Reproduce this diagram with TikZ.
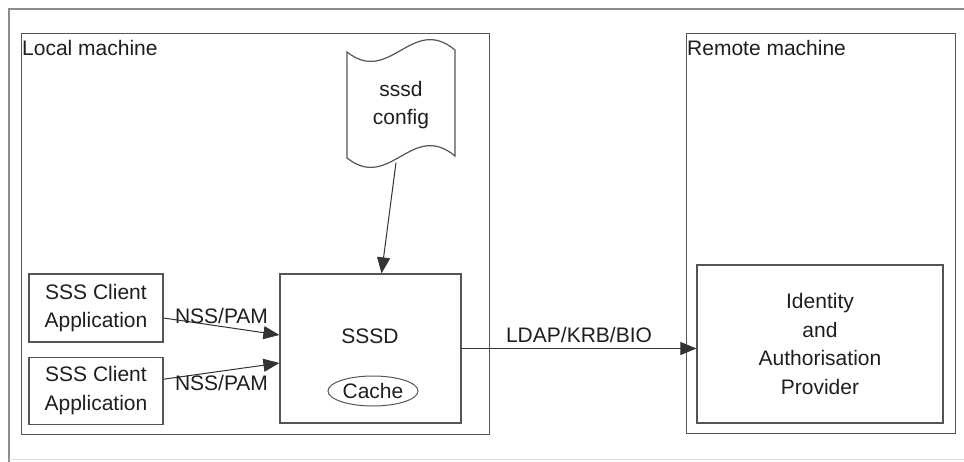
\documentclass[tikz,border=0pt]{standalone}
\usepackage{fontspec}
\setmainfont{Liberation Sans}
\usetikzlibrary{arrows.meta,positioning,shapes.geometric}
\definecolor{boxline}{RGB}{85,85,85}
\definecolor{frameline}{RGB}{140,140,140}
\definecolor{inktext}{RGB}{30,30,30}

\begin{document}
\begin{tikzpicture}[x=1pt, y=-1pt,
  box/.style={draw=boxline, line width=1.2pt, align=center, inner sep=0pt,
    text=inktext, font=\fontsize{21}{28.5}\selectfont},
  machine/.style={box, anchor=north west},
  lbl/.style={font=\fontsize{21}{26}\selectfont, inner sep=0pt, text=inktext},
  arr/.style={-{Triangle[length=16pt,width=13pt]}, line width=1pt, color=black!80},
  node distance=14pt]
\useasboundingbox (0,0) rectangle (964,461);
\draw[frameline, line width=1.6pt] (9,470) -- (9,9) -- (975,9);
\draw[black!12, line width=1pt] (9,459.5) -- (975,459.5);
% the two machines
\node[machine, minimum width=468pt, minimum height=401pt] (local) at (21,33) {};
\node[lbl, anchor=base west] (localname) at ([xshift=1pt, yshift=-22pt]local.north west) {Local machine};
\node[machine, minimum width=269pt, minimum height=400pt] (remote) at (686,33) {};
\node[lbl, anchor=base west] (remotename) at ([xshift=1pt, yshift=-22pt]remote.north west) {Remote machine};
% local side
\node[box, minimum width=134pt, minimum height=68pt] (client1) at (96,308) {SSS Client\\Application};
\node[box, minimum width=134pt, minimum height=67pt, below=14pt of client1] (client2) {SSS Client\\Application};
\node[box, minimum width=181pt, minimum height=149pt] (sssd) at (370.5,348.5) {};
\node[lbl] (sssdname) at (370,336) {SSSD};
\node[draw=boxline, ellipse, line width=1pt, minimum width=90pt, minimum height=30pt,
  inner sep=0pt, font=\fontsize{21}{26}\selectfont, text=inktext] (cache) at (373,391) {Cache};
% config file, wavy top and bottom
\draw[boxline, line width=1.2pt] (347,52) .. controls (390,86) and (412,14) .. (455,50)
  -- (455,156) .. controls (412,120) and (390,192) .. (347,158) -- cycle;
\node[box, draw=none, minimum width=108pt, minimum height=106pt] (cfg) at (401,105) {sssd\\config};
% remote side
\node[box, minimum width=246pt, minimum height=158pt] (idp) at (820,344)
  {Identity\\and\\Authorisation\\Provider};
\draw[arr] ([xshift=-5pt, yshift=-4pt]cfg.south) -- ([xshift=11pt]sssd.north);
\draw[arr] ([yshift=-10pt]client1.east) -- ([yshift=13.5pt]sssd.west)
  node[lbl, midway, yshift=11pt] {NSS/PAM};
\draw[arr] ([yshift=11.5pt]client2.east) -- ([yshift=-14.5pt]sssd.west)
  node[lbl, midway, yshift=-12pt] {NSS/PAM};
\draw[arr] (sssd.east) -- (sssd.east -| idp.west)
  node[lbl, midway, above=5pt] {LDAP/KRB/BIO};
\end{tikzpicture}
\end{document}
